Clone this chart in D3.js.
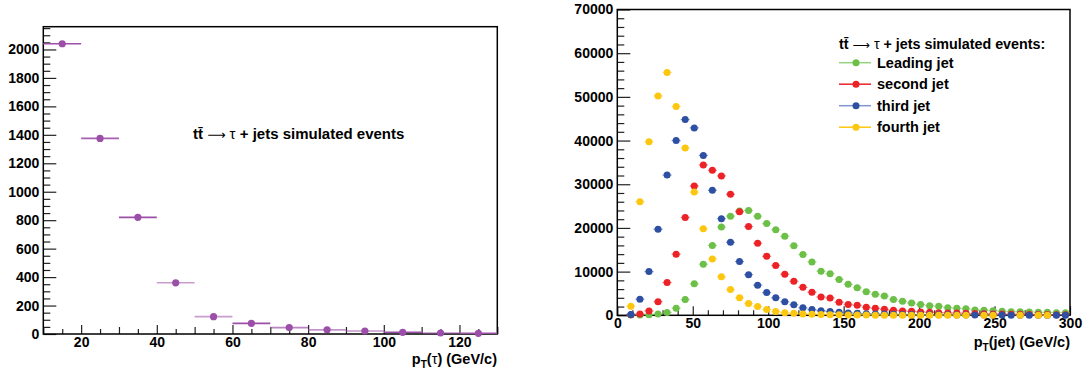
<!DOCTYPE html>
<html><head><meta charset="utf-8">
<script src="https://cdn.jsdelivr.net/npm/d3@7/dist/d3.min.js"></script>
<style>
body{margin:0;background:#fff}
svg{display:block}
text{font-family:"Liberation Sans",Arial,Helvetica,sans-serif;font-weight:bold;fill:#000}
</style>
</head><body>
<svg id="c" width="1091" height="373"></svg>
<script>
// ---------- data: left panel (tau pT) ----------
const tauCenters=[15,25,35,45,55,65,75,85,95,105,115,125];
const tauValues=[2040,1375,820,360,122,75,45,29,21,12,7,5];
const tauBinWidth=10;
const tauYTicks=[0,200,400,600,800,1000,1200,1400,1600,1800,2000];
const tauXTicks=[20,40,60,80,100,120];

// ---------- data: right panel (jet pT) ----------
const jetCenters=[9,15,21,27,33,39,45,51,57,63,69,75,81,87,93,99,105,111,117,123,129,135,141,147,153,159,165,171,177,183,189,195,201,207,213,219,225,231,237,243,249,255,261,267,273,279,285,291,297];
const jetBinWidth=6;
const leadingJet=[50,80,150,300,650,1600,3600,7200,11700,16000,20200,22700,23900,24000,22700,21000,19600,18100,15900,13900,12200,10100,9500,8200,7100,6300,5400,4800,4400,3600,3200,2800,2450,2200,2050,1750,1600,1500,1220,1140,1070,910,840,840,760,690,690,610,610];
const secondJet=[100,300,1000,3100,7500,14000,22400,29600,34400,33200,31900,27700,23700,20300,16500,13500,11400,9400,7800,6400,5300,4200,3950,3000,2500,2300,1850,1600,1370,1150,1000,900,780,690,610,540,500,450,400,350,320,290,260,230,200,180,160,140,120];
const thirdJet=[200,3700,10000,19700,32100,40000,44800,42900,36600,28600,22100,16700,12300,9300,6900,5200,4000,3100,2400,1700,1300,1050,850,690,540,460,380,320,270,230,200,170,150,130,110,100,90,80,70,60,50,45,40,35,30,25,20,18,15];
const fourthJet=[2100,26000,39700,50200,55600,47800,38300,28200,19800,12900,8800,5900,4000,2700,2000,1300,850,600,450,320,240,180,140,110,85,65,50,40,32,25,20,16,13,10,8,7,6,5,0,3,3,0,0,2,0,1,1,0,0];
const jetNames=["Leading jet","second jet","third jet","fourth jet"];
const jetSeries=[leadingJet,secondJet,thirdJet,fourthJet];
const jetColors=["#6cbf47","#ec2227","#2e50a3","#fdc70f"];
const jetLegendLine=["#96d37f","#ec2227","#7f97cf","#fdc70f"];
const jetYTicks=[0,10000,20000,30000,40000,50000,60000,70000];
const jetXTicks=[0,50,100,150,200,250,300];

const svg=d3.select("#c");

function axes(g,x,y,opt){
  const yMaj=d3.axisLeft(y).tickValues(opt.yTicks).tickSize(-13).tickPadding(4).tickFormat(d3.format("d"));
  const yMin=d3.axisLeft(y).tickValues(opt.yMinor).tickSize(-7).tickFormat("");
  const xMaj=d3.axisBottom(x).tickValues(opt.xTicks).tickSize(-9).tickPadding(3).tickFormat(d3.format("d"));
  const xMin=d3.axisBottom(x).tickValues(opt.xMinor).tickSize(-5).tickFormat("");
  const xMid=d3.axisBottom(x).tickValues(opt.xMid||[]).tickSize(-7).tickFormat("");
  const x0=x.range()[0], y0=y.range()[0];
  [yMin,yMaj].forEach(a=>{
    g.append("g").attr("transform",`translate(${x0},0)`).call(a);
  });
  [xMin,xMid,xMaj].forEach(a=>{
    g.append("g").attr("transform",`translate(0,${y0})`).call(a);
  });
  g.selectAll(".domain").remove();
  g.selectAll(".tick line").attr("stroke","#222").attr("stroke-width",1.2);
  g.selectAll(".tick text").attr("font-size",14).attr("font-family",'"Liberation Sans",Arial,sans-serif').attr("font-weight","bold").attr("fill","#000");
  const [xa,xb]=x.range(), [ya,yb]=y.range();
  g.append("rect").attr("x",xa).attr("y",yb).attr("width",xb-xa).attr("height",ya-yb)
    .attr("fill","none").attr("stroke","#000").attr("stroke-width",1.5);
}

function reaction(t,prefix,suffix){
  t.append("tspan").text(prefix);
  t.append("tspan").attr("font-weight","normal").attr("font-family",'"DejaVu Sans",sans-serif').attr("font-size","0.85em").text("\u27f6");
  t.append("tspan").attr("font-weight","normal").text(" \u03c4");
  t.append("tspan").text(suffix);
}

// ---------- left panel ----------
const xL=d3.scaleLinear().domain([10,130]).range([43.3,497.3]);
const yL=d3.scaleLinear().domain([0,2160]).range([334,26.7]);
const gL=svg.append("g");
const tauMinor=d3.range(0,2160,50).filter(v=>v%200!==0);
axes(gL,xL,yL,{yTicks:tauYTicks,yMinor:tauMinor,xTicks:tauXTicks,
  xMinor:d3.range(15,130,10),xMid:d3.range(10,131,20)});
const purple="#9c4fa8";
gL.selectAll("line.eb").data(tauCenters).join("line").attr("class","eb")
  .attr("x1",(d)=>xL(d-tauBinWidth/2)).attr("x2",(d)=>xL(d+tauBinWidth/2))
  .attr("y1",(d,i)=>yL(tauValues[i])).attr("y2",(d,i)=>yL(tauValues[i]))
  .attr("stroke",purple).attr("stroke-width",1.6).attr("stroke-opacity",(d,i)=>[1,0.9,1,0.55,0.55,1,0.7,0.6,0.6,1,0.6,1][i]);
gL.selectAll("circle").data(tauCenters).join("circle")
  .attr("cx",d=>xL(d)).attr("cy",(d,i)=>yL(tauValues[i])).attr("r",3.6).attr("fill",purple);
const tl=gL.append("text").attr("x",193).attr("y",139).attr("font-size",15);
reaction(tl,"tt\u0304 "," + jets simulated events");
const axL=gL.append("text").attr("x",497).attr("y",364).attr("text-anchor","end").attr("font-size",14.5);
axL.append("tspan").text("p");
axL.append("tspan").attr("font-size",10).attr("dy",4).text("T");
axL.append("tspan").attr("dy",-4).text("(");
axL.append("tspan").attr("font-weight","normal").text("\u03c4");
axL.append("tspan").text(") (GeV/c)");

// ---------- right panel ----------
const xR=d3.scaleLinear().domain([0,300]).range([617.3,1070]);
const yR=d3.scaleLinear().domain([0,70000]).range([315.3,9.5]);
const gR=svg.append("g");
axes(gR,xR,yR,{yTicks:jetYTicks,yMinor:d3.range(0,70000,2000).filter(v=>v%10000!==0),
  xTicks:jetXTicks,xMinor:d3.range(0,300,10).filter(v=>v%50!==0)});
jetSeries.forEach((vals,s)=>{
  const pts=jetCenters.map((c,i)=>({c,v:vals[i]})).filter(p=>p.v>0);
  const g=gR.append("g");
  g.selectAll("line").data(pts).join("line")
    .attr("x1",p=>xR(p.c-jetBinWidth/2)).attr("x2",p=>xR(p.c+jetBinWidth/2))
    .attr("y1",p=>yR(p.v)).attr("y2",p=>yR(p.v))
    .attr("stroke",jetColors[s]).attr("stroke-width",1.2).attr("stroke-opacity",0.6);
  g.selectAll("circle").data(pts).join("circle")
    .attr("cx",p=>xR(p.c)).attr("cy",p=>yR(p.v)).attr("r",3.5).attr("fill",jetColors[s]);
});
const lg=gR.append("g");
const hd=lg.append("text").attr("x",839).attr("y",49).attr("font-size",14.3);
reaction(hd,"tt\u0304 "," + jets simulated events:");
jetNames.forEach((n,i)=>{
  const yy=62.7+i*21.5;
  lg.append("line").attr("x1",839).attr("x2",871).attr("y1",yy).attr("y2",yy)
    .attr("stroke",jetLegendLine[i]).attr("stroke-width",1.5);
  lg.append("circle").attr("cx",856).attr("cy",yy).attr("r",3.5).attr("fill",jetColors[i]);
  lg.append("text").attr("x",877).attr("y",yy+5).attr("font-size",14.5).text(n);
});
const axR=gR.append("text").attr("x",1070).attr("y",347).attr("text-anchor","end").attr("font-size",14.5);
axR.append("tspan").text("p");
axR.append("tspan").attr("font-size",10).attr("dy",4).text("T");
axR.append("tspan").attr("dy",-4).text("(jet) (GeV/c)");
</script>
</body></html>
